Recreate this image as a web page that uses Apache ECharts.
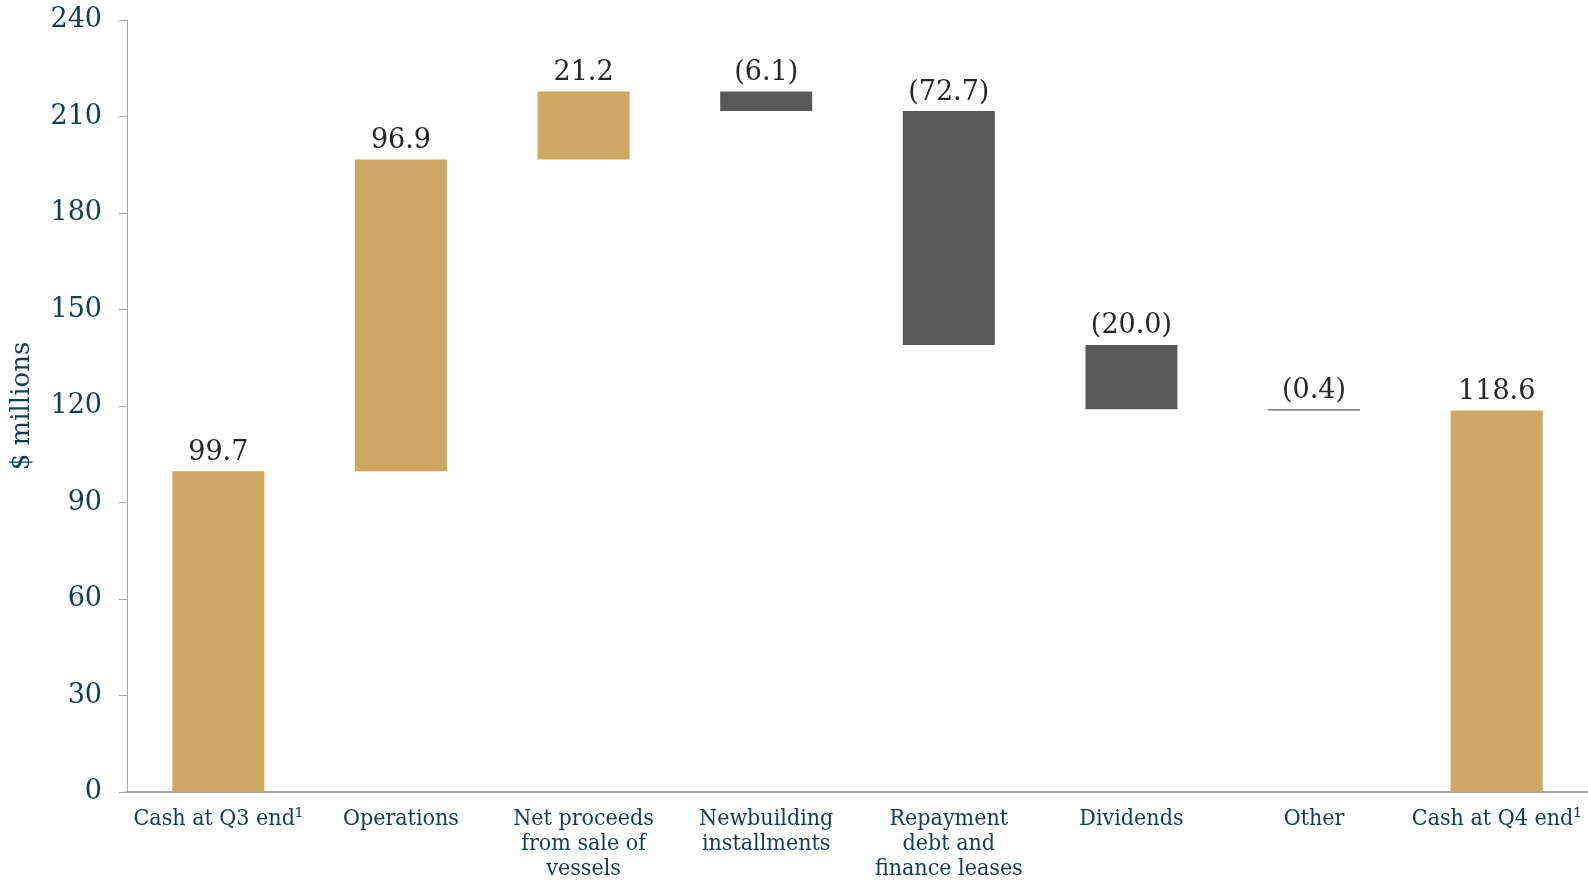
<!DOCTYPE html>
<html>
<head>
<meta charset="utf-8">
<script src="https://cdn.jsdelivr.net/npm/echarts@6/dist/echarts.min.js"></script>
<style>
  html, body { margin: 0; padding: 0; background: #ffffff; }
  #chart { width: 1588px; height: 880px; }
</style>
</head>
<body>
<div id="chart"></div>
<script>
// Cash bridge, $ millions
const categories = [
  'Cash at Q3 end\u00b9',
  'Operations',
  'Net proceeds\nfrom sale of\nvessels',
  'Newbuilding\ninstallments',
  'Repayment\ndebt and\nfinance leases',
  'Dividends',
  'Other',
  'Cash at Q4 end\u00b9'
];
// Movement per step; first and last entries are totals
const changes = [99.7, 96.9, 21.2, -6.1, -72.7, -20.0, -0.4, 118.6];
const isTotal = [true, false, false, false, false, false, false, true];
const yTicks = { min: 0, max: 240, interval: 30 };

const GOLD = '#CFA762';
const GREY = '#595959';
const TEAL = '#0f3d52';

// Build invisible offsets and visible heights for a waterfall
const base = [];
const height = [];
let running = 0;
changes.forEach((v, i) => {
  if (isTotal[i]) {
    base.push(0);
    height.push(v);
    running = v;
  } else {
    const next = running + v;
    base.push(Math.min(running, next));
    height.push(Math.abs(v));
    running = next;
  }
});

const fmt = v => v < 0 ? '(' + Math.abs(v).toFixed(1) + ')' : v.toFixed(1);

const chart = echarts.init(document.getElementById('chart'));
chart.setOption({
  animation: false,
  backgroundColor: '#ffffff',
  grid: { left: 127, right: 0, top: 20, bottom: 88, containLabel: false, outerBoundsMode: 'none' },
  xAxis: {
    type: 'category',
    data: categories,
    axisLine: { show: true, lineStyle: { color: '#a6a6a6', width: 2 } },
    axisTick: { show: false },
    axisLabel: {
      interval: 0,
      color: TEAL,
      fontFamily: 'DejaVu Serif Condensed',
      fontSize: 23,
      lineHeight: 25,
      margin: 15
    }
  },
  yAxis: {
    type: 'value',
    min: yTicks.min,
    max: yTicks.max,
    interval: yTicks.interval,
    name: '$ millions',
    nameLocation: 'middle',
    nameGap: 92,
    nameTextStyle: { color: TEAL, fontFamily: 'DejaVu Serif', fontSize: 26 },
    splitLine: { show: false },
    axisLine: { show: true, lineStyle: { color: '#a6a6a6', width: 1 } },
    axisTick: { show: true, length: 8, lineStyle: { color: '#a6a6a6' } },
    axisLabel: {
      color: TEAL,
      fontFamily: 'DejaVu Serif',
      fontSize: 27,
      margin: 25
    }
  },
  series: [
    {
      type: 'bar',
      stack: 'wf',
      data: base,
      barWidth: 92,
      itemStyle: { color: 'transparent' },
      emphasis: { disabled: true },
      silent: true
    },
    {
      type: 'bar',
      stack: 'wf',
      barWidth: 92,
      data: height.map((h, i) => ({
        value: h,
        itemStyle: { color: changes[i] < 0 ? GREY : GOLD }
      })),
      label: {
        show: true,
        position: 'top',
        distance: 5,
        color: '#262626',
        fontFamily: 'DejaVu Serif',
        fontSize: 27,
        formatter: p => fmt(changes[p.dataIndex])
      }
    }
  ]
});
</script>
</body>
</html>
